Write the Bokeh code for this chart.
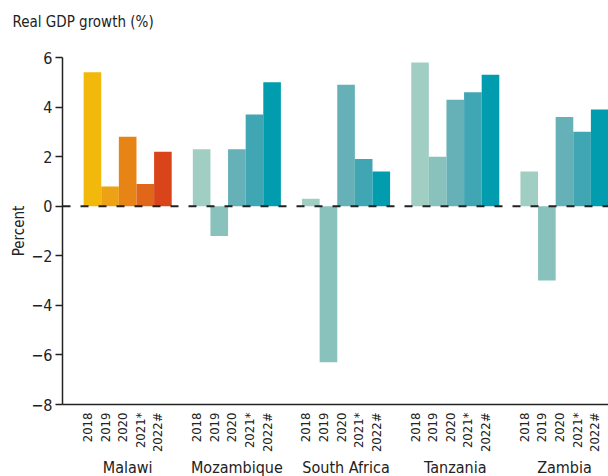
from math import pi

from bokeh.plotting import figure
from bokeh.models import (ColumnDataSource, FixedTicker, LinearAxis, Span,
                          Range1d, Title)
from bokeh.embed import file_html
from bokeh.resources import INLINE

# ---- data -------------------------------------------------------------
countries = ["Malawi", "Mozambique", "South Africa", "Tanzania", "Zambia"]
years = ["2018", "2019", "2020", "2021*", "2022#"]

malawi = [5.4, 0.8, 2.8, 0.9, 2.2]
mozambique = [2.3, -1.2, 2.3, 3.7, 5.0]
south_africa = [0.3, -6.3, 4.9, 1.9, 1.4]
tanzania = [5.8, 2.0, 4.3, 4.6, 5.3]
zambia = [1.4, -3.0, 3.6, 3.0, 3.9]

y_ticks = [-8, -6, -4, -2, 0, 2, 4, 6]

malawi_colors = ["#F2B90C", "#ECA214", "#E68416", "#E0661A", "#D9441A"]
teal_colors = ["#A1CEC3", "#89C2BC", "#65B1B7", "#41A6B3", "#019DAF"]

series = [malawi, mozambique, south_africa, tanzania, zambia]

# ---- bar geometry in x units (bar 50 wide, 60 between groups) ---------
BAR = 50
GAP = 60
GROUP = 5 * BAR + GAP
LABEL_SHIFT = 14          # year labels sit a little left of the bar centre

xs, tops, colors = [], [], []
year_ticks, year_of = [], {}
group_centres = {}
for g, (name, vals) in enumerate(zip(countries, series)):
    palette = malawi_colors if g == 0 else teal_colors
    for j, v in enumerate(vals):
        cx = GAP + g * GROUP + j * BAR + BAR // 2
        xs.append(cx)
        tops.append(v)
        colors.append(palette[j])
        year_ticks.append(cx - LABEL_SHIFT)
        year_of[cx - LABEL_SHIFT] = years[j]
    group_centres[GAP + g * GROUP + (5 * BAR) // 2] = name

src = ColumnDataSource(dict(x=xs, top=tops, color=colors))

FONT = "DejaVu Sans Condensed"
TXT = "#222222"

p = figure(frame_width=546, frame_height=347, output_backend="svg",
           toolbar_location=None,
           x_range=Range1d(0, 5 * GROUP), y_range=Range1d(-8, 6),
           x_axis_location=None, y_axis_location="left",
           min_border_left=62, min_border_right=0, min_border_top=57,
           min_border_bottom=0)
p.outline_line_color = None
p.grid.grid_line_color = None
p.background_fill_color = "white"
p.border_fill_color = "white"

p.vbar(x="x", top="top", bottom=0, width=BAR, color="color", source=src,
       line_color=None)

# dashed zero line
p.add_layout(Span(location=0, dimension="width", line_color="#222222",
                  line_width=2, line_dash="8 10"))

# heading, with an empty spacer title between it and the plot frame
p.title.text = "Real GDP growth (%)"
p.title.text_font = FONT
p.title.text_font_size = "15px"
p.title.text_font_style = "normal"
p.title.text_color = TXT
p.title.align = "left"
p.title.offset = -50
p.title.standoff = 2
p.add_layout(Title(text=" ", text_font_size="1px", standoff=23), "above")

# y axis
ya = p.yaxis[0]
ya.ticker = FixedTicker(ticks=y_ticks)
ya.major_label_overrides = {t: ("\u2212" + str(-t) if t < 0 else str(t)) for t in y_ticks}
ya.axis_label = "Percent"
ya.axis_label_text_font = FONT
ya.axis_label_text_font_size = "15px"
ya.axis_label_text_font_style = "normal"
ya.axis_label_text_color = TXT
ya.axis_label_standoff = 0
ya.major_label_text_font = FONT
ya.major_label_text_font_size = "16px"
ya.major_label_text_color = TXT
ya.major_label_standoff = 3
ya.major_tick_out = 7
ya.major_tick_in = 0
ya.minor_tick_line_color = None
ya.axis_line_color = "#222222"
ya.major_tick_line_color = "#222222"
ya.axis_line_width = 1.5
ya.major_tick_line_width = 1.5

# x axis: year labels
xa = LinearAxis(ticker=FixedTicker(ticks=year_ticks))
xa.major_label_overrides = year_of
xa.major_label_orientation = pi / 2
xa.major_label_text_font = FONT
xa.major_label_text_font_size = "13px"
xa.major_label_text_color = TXT
xa.major_label_standoff = 8
xa.major_tick_out = 0
xa.major_tick_in = 0
xa.major_tick_line_color = None
xa.minor_tick_line_color = None
xa.axis_line_color = "#222222"
xa.axis_line_width = 1.5
p.add_layout(xa, "below")

# x axis: country labels
ca = LinearAxis(ticker=FixedTicker(ticks=list(group_centres.keys())))
ca.major_label_overrides = group_centres
ca.major_label_text_font = FONT
ca.major_label_text_font_size = "16px"
ca.major_label_text_color = TXT
ca.major_label_standoff = 2
ca.major_tick_out = 0
ca.major_tick_in = 0
ca.major_tick_line_color = None
ca.minor_tick_line_color = None
ca.axis_line_color = None
p.add_layout(ca, "below")

open("out.html", "w").write(file_html(p, INLINE))
